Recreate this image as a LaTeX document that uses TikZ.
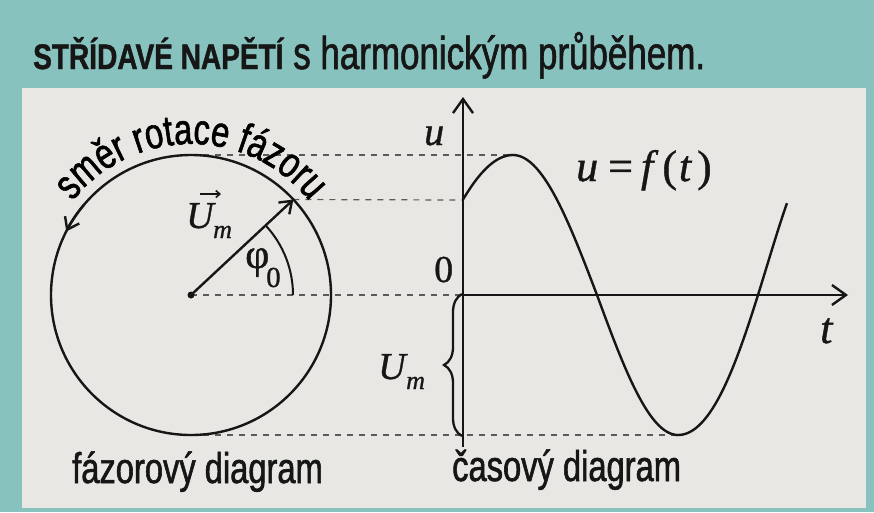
\documentclass[tikz,border=0pt]{standalone}
\usepackage{fontspec}
\setmainfont{Liberation Serif}[FakeBold=0.9]
\newfontfamily\cond[FakeStretch=0.76,FakeBold=1.3]{Liberation Sans}
\newfontfamily\condb[FakeStretch=0.79,FakeBold=1.2]{Liberation Sans}
\usetikzlibrary{arrows.meta,decorations.text,decorations.pathreplacing}
\definecolor{bgteal}{HTML}{88C2BE}
\definecolor{panel}{HTML}{E8E7E3}
\definecolor{ink}{HTML}{161616}
\definecolor{dashc}{HTML}{5A5A5A}
\tikzset{
 ln/.style={line width=2.4pt, draw=ink},
 tipv/.style={-{Straight Barb[length=11pt,width=16pt]}},
 axtip/.style={-{Straight Barb[length=14pt,width=20pt]}},
 dashln/.style={line width=1.2pt, draw=dashc, dash pattern=on 6pt off 6pt},
 lbl/.style={inner sep=0pt, text=ink, anchor=base west},
 mathit/.style={font=\fontsize{#1}{#1}\selectfont\itshape},
 mathup/.style={font=\fontsize{#1}{#1}\selectfont},
 sanslbl/.style={font=\cond\fontsize{43}{43}\selectfont},
}
\begin{document}
\begin{tikzpicture}[x=1pt,y=1pt]
\useasboundingbox (0,0) rectangle (874,-512);
\fill[bgteal] (0,0) rectangle (874,-512);
\fill[panel] (22,-88) rectangle (866,-508);
% title
\node[lbl] (title) at (33,-69) {{\condb\bfseries\fontsize{35.5}{35.5}\selectfont STŘÍDAVÉ NAPĚTÍ}{\cond\fontsize{46}{46}\selectfont\ s harmonickým průběhem.}};
% coordinates
\coordinate (O) at (191,-295);
\path (O) ++(43:140pt) coordinate (P);
\coordinate (Top) at (191,-155);
\coordinate (Bot) at (191,-435);
\coordinate (A0) at (463,-295);
\coordinate (Ab) at (463,-447);
\coordinate (Atop) at (463,-97);
\coordinate (Tend) at (848,-295);
\coordinate (U0) at (463,-200);
\coordinate (Pk) at (513,-155);
\coordinate (Tr) at (678,-435);
\coordinate (Bb) at (462,-436);
\coordinate (Bt) at (462,-294);
\coordinate (va) at (200,-194);
\coordinate (vb) at (221,-194);
% dashed guides
\draw[dashln] (Top) -- (Pk);
\draw[dashln] (P) -- (U0);
\draw[dashln] (O) -- (A0);
\draw[dashln] (Bot) -- (Tr);
% phasor diagram
\draw[ln] (O) circle[radius=140pt];
\draw[ln, tipv] (O) ++(140:140pt) arc[start angle=140,end angle=153,radius=140pt];
\path[decorate, decoration={text along path, text align=center,
  text={|\cond\fontsize{43}{43}\selectfont|směr rotace fázoru}}]
  (O) ++(150:151pt) arc[start angle=150,end angle=30,radius=151pt];
\draw[ln, tipv] (O) -- (P);
\fill[ink] (O) circle[radius=3.5pt];
\draw[ln, line width=2pt] (O) ++(0:102pt) arc[start angle=0,end angle=43,radius=102pt];
\node[lbl, mathit=38] (Uv) at (186,-228) {U};
\node[lbl, mathit=26] (Uvm) at (213,-238) {m};
\draw[line width=1.6pt, draw=ink, -{Straight Barb[length=4pt,width=7pt]}] (va) -- (vb);
\node[lbl, mathup=42] (phi) at (245,-268) {φ};
\node[lbl, mathup=29] (phi0) at (266,-287) {0};
% time diagram
\draw[ln, axtip] (Ab) -- (Atop);
\draw[ln, axtip] (A0) -- (Tend);
\draw[ln] plot[domain=43:90,samples=20] ({463+(\x-43)*50/47},{-295+140*sin(\x)})
  -- plot[domain=90:180,samples=30] ({513+(\x-90)*84/90},{-295+140*sin(\x)})
  -- plot[domain=180:270,samples=30] ({597+(\x-180)*81/90},{-295+140*sin(\x)})
  -- plot[domain=270:401,samples=45] ({678+(\x-270)*(1.0136-0.001385*(\x-270))},{-295+140*sin(\x)});
\draw[line width=2.3pt, draw=ink, decorate, decoration={brace, amplitude=18pt}] (Bb) -- (Bt);
\node[lbl, mathit=40] (ulab) at (424,-145) {u};
\node[lbl, mathup=38] (zero) at (434,-282) {0};
\node[lbl, mathit=44] (tlab) at (820,-343) {t};
\node[lbl, mathup=44] (ueq) at (576,-181) {\textit{u}\hspace{10pt}=\hspace{8pt}\textit{f}\hspace{4pt}(\hspace{2pt}\textit{t}\hspace{5pt})};
\node[lbl, mathit=38] (Ub) at (378,-379) {U};
\node[lbl, mathit=26] (Ubm) at (406,-389) {m};
% captions
\node[lbl, sanslbl] (fd) at (72,-483) {fázorový diagram};
\node[lbl, sanslbl] (cd) at (452,-481) {časový diagram};
\end{tikzpicture}
\end{document}
